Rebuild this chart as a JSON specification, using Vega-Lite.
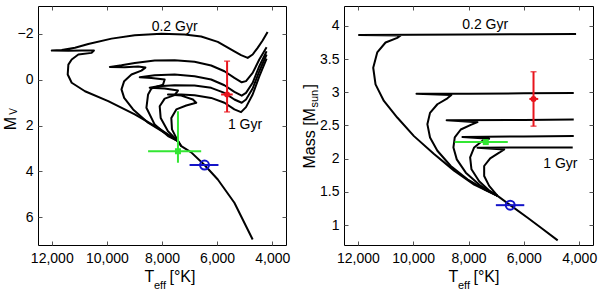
{
  "$schema": "https://vega.github.io/schema/vega-lite/v6.json",
  "padding": {"left": 1, "top": 5, "right": 0, "bottom": 0},
  "background": "white",
  "spacing": 58,
  "bounds": "flush",
  "datasets": {
    "isoL": [
      {"c":"a","i":0,"T":4168,"m":-2.07},{"c":"a","i":1,"T":4348,"m":-1.70},{"c":"a","i":2,"T":4529,"m":-1.38},{"c":"a","i":3,"T":4710,"m":-1.09},{"c":"a","i":4,"T":4890,"m":-0.94},{"c":"a","i":5,"T":5131,"m":-1.06},{"c":"a","i":6,"T":5373,"m":-1.23},{"c":"a","i":7,"T":5975,"m":-1.64},{"c":"a","i":8,"T":6578,"m":-1.87},{"c":"a","i":9,"T":7180,"m":-1.96},{"c":"a","i":10,"T":8024,"m":-1.99},{"c":"a","i":11,"T":8988,"m":-1.93},{"c":"a","i":12,"T":9831,"m":-1.78},{"c":"a","i":13,"T":10675,"m":-1.55},{"c":"a","i":14,"T":11157,"m":-1.38},{"c":"a","i":15,"T":11639,"m":-1.29},{"c":"a","i":16,"T":12000,"m":-1.26},{"c":"a","i":17,"T":11398,"m":-1.25},{"c":"a","i":18,"T":10916,"m":-1.26},{"c":"a","i":19,"T":10470,"m":-1.26},{"c":"a","i":20,"T":10554,"m":-1.16},{"c":"a","i":21,"T":11036,"m":-1.09},{"c":"a","i":22,"T":11277,"m":-0.87},{"c":"a","i":23,"T":11398,"m":-0.65},{"c":"a","i":24,"T":11422,"m":-0.22},{"c":"a","i":25,"T":11277,"m":0.14},{"c":"a","i":26,"T":10795,"m":0.51},{"c":"a","i":27,"T":9952,"m":0.94},{"c":"a","i":28,"T":8988,"m":1.52},{"c":"a","i":29,"T":8144,"m":2.10},{"c":"a","i":30,"T":7421,"m":2.68},
      {"c":"b","i":0,"T":4204,"m":-1.41},{"c":"b","i":1,"T":4469,"m":-0.87},{"c":"b","i":2,"T":4710,"m":-0.29},{"c":"b","i":3,"T":4951,"m":0.07},{"c":"b","i":4,"T":5107,"m":0.12},{"c":"b","i":5,"T":5373,"m":-0.07},{"c":"b","i":6,"T":5734,"m":-0.36},{"c":"b","i":7,"T":6216,"m":-0.61},{"c":"b","i":8,"T":6819,"m":-0.77},{"c":"b","i":9,"T":7541,"m":-0.84},{"c":"b","i":10,"T":8265,"m":-0.83},{"c":"b","i":11,"T":8988,"m":-0.72},{"c":"b","i":12,"T":9470,"m":-0.62},{"c":"b","i":13,"T":9891,"m":-0.55},{"c":"b","i":14,"T":9349,"m":-0.54},{"c":"b","i":15,"T":8867,"m":-0.57},{"c":"b","i":16,"T":8602,"m":-0.52},{"c":"b","i":17,"T":8747,"m":-0.39},{"c":"b","i":18,"T":9108,"m":-0.22},{"c":"b","i":19,"T":9373,"m":0.07},{"c":"b","i":20,"T":9470,"m":0.43},{"c":"b","i":21,"T":9373,"m":0.80},{"c":"b","i":22,"T":9048,"m":1.30},{"c":"b","i":23,"T":8505,"m":1.88},{"c":"b","i":24,"T":7903,"m":2.32},{"c":"b","i":25,"T":7421,"m":2.68},
      {"c":"c","i":0,"T":4204,"m":-1.23},{"c":"c","i":1,"T":4469,"m":-0.58},{"c":"c","i":2,"T":4710,"m":0.14},{"c":"c","i":3,"T":4951,"m":0.58},{"c":"c","i":4,"T":5107,"m":0.70},{"c":"c","i":5,"T":5373,"m":0.54},{"c":"c","i":6,"T":5734,"m":0.25},{"c":"c","i":7,"T":6216,"m":0.00},{"c":"c","i":8,"T":6819,"m":-0.14},{"c":"c","i":9,"T":7541,"m":-0.22},{"c":"c","i":10,"T":8265,"m":-0.19},{"c":"c","i":11,"T":8807,"m":-0.10},{"c":"c","i":12,"T":8385,"m":-0.07},{"c":"c","i":13,"T":7903,"m":0.00},{"c":"c","i":14,"T":7963,"m":0.22},{"c":"c","i":15,"T":8385,"m":0.39},{"c":"c","i":16,"T":8505,"m":0.65},{"c":"c","i":17,"T":8566,"m":1.23},{"c":"c","i":18,"T":8265,"m":1.96},{"c":"c","i":19,"T":7783,"m":2.46},{"c":"c","i":20,"T":7421,"m":2.68},
      {"c":"d","i":0,"T":4204,"m":-1.09},{"c":"d","i":1,"T":4469,"m":-0.36},{"c":"d","i":2,"T":4710,"m":0.39},{"c":"d","i":3,"T":4951,"m":0.87},{"c":"d","i":4,"T":5107,"m":1.01},{"c":"d","i":5,"T":5373,"m":0.87},{"c":"d","i":6,"T":5734,"m":0.58},{"c":"d","i":7,"T":6216,"m":0.36},{"c":"d","i":8,"T":6819,"m":0.26},{"c":"d","i":9,"T":7541,"m":0.25},{"c":"d","i":10,"T":8144,"m":0.29},{"c":"d","i":11,"T":8445,"m":0.36},{"c":"d","i":12,"T":7903,"m":0.39},{"c":"d","i":13,"T":7421,"m":0.48},{"c":"d","i":14,"T":7541,"m":0.68},{"c":"d","i":15,"T":7903,"m":0.83},{"c":"d","i":16,"T":8084,"m":1.16},{"c":"d","i":17,"T":8048,"m":1.67},{"c":"d","i":18,"T":7783,"m":2.25},{"c":"d","i":19,"T":7421,"m":2.68},
      {"c":"e","i":0,"T":4204,"m":-0.91},{"c":"e","i":1,"T":4469,"m":-0.14},{"c":"e","i":2,"T":4710,"m":0.65},{"c":"e","i":3,"T":4951,"m":1.20},{"c":"e","i":4,"T":5131,"m":1.42},{"c":"e","i":5,"T":5373,"m":1.30},{"c":"e","i":6,"T":5734,"m":1.01},{"c":"e","i":7,"T":6216,"m":0.80},{"c":"e","i":8,"T":6819,"m":0.68},{"c":"e","i":9,"T":7300,"m":0.65},{"c":"e","i":10,"T":7783,"m":0.65},{"c":"e","i":11,"T":7300,"m":0.70},{"c":"e","i":12,"T":6878,"m":0.87},{"c":"e","i":13,"T":6758,"m":1.01},{"c":"e","i":14,"T":7120,"m":1.13},{"c":"e","i":15,"T":7481,"m":1.30},{"c":"e","i":16,"T":7662,"m":1.67},{"c":"e","i":17,"T":7638,"m":2.17},{"c":"e","i":18,"T":7481,"m":2.54},{"c":"e","i":19,"T":7300,"m":2.90},
      {"c":"ms","i":0,"T":7421,"m":2.68},{"c":"ms","i":1,"T":7300,"m":2.90},{"c":"ms","i":2,"T":6939,"m":3.17},{"c":"ms","i":3,"T":6457,"m":3.72},{"c":"ms","i":4,"T":5975,"m":4.35},{"c":"ms","i":5,"T":5373,"m":5.36},{"c":"ms","i":6,"T":4710,"m":6.96}
    ],
    "isoR": [
      {"c":"a","i":0,"T":4112,"m":3.88},{"c":"a","i":1,"T":6000,"m":3.875},{"c":"a","i":2,"T":8000,"m":3.87},{"c":"a","i":3,"T":10000,"m":3.866},{"c":"a","i":4,"T":11958,"m":3.863},{"c":"a","i":5,"T":10451,"m":3.855},{"c":"a","i":6,"T":10575,"m":3.82},{"c":"a","i":7,"T":10998,"m":3.75},{"c":"a","i":8,"T":11299,"m":3.60},{"c":"a","i":9,"T":11444,"m":3.37},{"c":"a","i":10,"T":11360,"m":3.12},{"c":"a","i":11,"T":11058,"m":2.87},{"c":"a","i":12,"T":10575,"m":2.62},{"c":"a","i":13,"T":9971,"m":2.34},{"c":"a","i":14,"T":9246,"m":2.07},{"c":"a","i":15,"T":8521,"m":1.82},{"c":"a","i":16,"T":7796,"m":1.61},{"c":"a","i":17,"T":6950,"m":1.44},
      {"c":"b","i":0,"T":4196,"m":2.99},{"c":"b","i":1,"T":6000,"m":2.985},{"c":"b","i":2,"T":8000,"m":2.98},{"c":"b","i":3,"T":9880,"m":2.978},{"c":"b","i":4,"T":8620,"m":2.96},{"c":"b","i":5,"T":8763,"m":2.91},{"c":"b","i":6,"T":9125,"m":2.82},{"c":"b","i":7,"T":9391,"m":2.69},{"c":"b","i":8,"T":9487,"m":2.52},{"c":"b","i":9,"T":9391,"m":2.32},{"c":"b","i":10,"T":9125,"m":2.12},{"c":"b","i":11,"T":8642,"m":1.89},{"c":"b","i":12,"T":8038,"m":1.69},{"c":"b","i":13,"T":7434,"m":1.54},{"c":"b","i":14,"T":6950,"m":1.44},
      {"c":"c","i":0,"T":4196,"m":2.59},{"c":"c","i":1,"T":6000,"m":2.583},{"c":"c","i":2,"T":8790,"m":2.578},{"c":"c","i":3,"T":7675,"m":2.55},{"c":"c","i":4,"T":7917,"m":2.51},{"c":"c","i":5,"T":8279,"m":2.44},{"c":"c","i":6,"T":8497,"m":2.32},{"c":"c","i":7,"T":8545,"m":2.17},{"c":"c","i":8,"T":8424,"m":1.99},{"c":"c","i":9,"T":8098,"m":1.79},{"c":"c","i":10,"T":7555,"m":1.59},{"c":"c","i":11,"T":6950,"m":1.44},
      {"c":"d","i":0,"T":4196,"m":2.34},{"c":"d","i":1,"T":6000,"m":2.335},{"c":"d","i":2,"T":8219,"m":2.327},{"c":"d","i":3,"T":7253,"m":2.30},{"c":"d","i":4,"T":7494,"m":2.27},{"c":"d","i":5,"T":7796,"m":2.17},{"c":"d","i":6,"T":7941,"m":2.02},{"c":"d","i":7,"T":7893,"m":1.84},{"c":"d","i":8,"T":7615,"m":1.66},{"c":"d","i":9,"T":7253,"m":1.52},{"c":"d","i":10,"T":6950,"m":1.44},
      {"c":"e","i":0,"T":4233,"m":2.17},{"c":"e","i":1,"T":6000,"m":2.168},{"c":"e","i":2,"T":7675,"m":2.166},{"c":"e","i":3,"T":6709,"m":2.14},{"c":"e","i":4,"T":6890,"m":2.09},{"c":"e","i":5,"T":7216,"m":2.005},{"c":"e","i":6,"T":7434,"m":1.89},{"c":"e","i":7,"T":7434,"m":1.74},{"c":"e","i":8,"T":7253,"m":1.59},{"c":"e","i":9,"T":6950,"m":1.44},
      {"c":"ms","i":0,"T":6950,"m":1.44},{"c":"ms","i":1,"T":6492,"m":1.30},{"c":"ms","i":2,"T":5863,"m":1.11},{"c":"ms","i":3,"T":5380,"m":0.96},{"c":"ms","i":4,"T":4776,"m":0.77}
    ],
    "obsL": [
      {"s":"red","T":5638,"Tlo":5433,"Thi":5855,"m":0.65,"mlo":-0.80,"mhi":1.41},
      {"s":"green","T":7421,"Tlo":6578,"Thi":8505,"m":3.12,"mlo":1.38,"mhi":3.62},
      {"s":"blue","T":6457,"Tlo":5951,"Thi":7000,"m":3.72,"mlo":3.72,"mhi":3.72}
    ],
    "obsR": [
      {"s":"red","T":5650,"Tlo":5480,"Thi":5800,"m":2.90,"mlo":2.49,"mhi":3.31},
      {"s":"green","T":7375,"Tlo":6580,"Thi":8500,"m":2.25,"mlo":2.25,"mhi":2.25},
      {"s":"blue","T":6492,"Tlo":5984,"Thi":7011,"m":1.30,"mlo":1.30,"mhi":1.30}
    ],
    "annL": [
      {"T":7541,"m":-2.29,"t":"0.2 Gyr"},
      {"T":4987,"m":1.99,"t":"1 Gyr"}
    ],
    "annR": [
      {"T":7398,"m":4.01,"t":"0.2 Gyr"},
      {"T":4680,"m":1.925,"t":"1 Gyr"}
    ]
  },
  "resolve": {"scale": {"x": "independent", "y": "independent"}},
  "hconcat": [
    {
      "width": 248, "height": 239,
      "resolve": {"axis": {"x": "independent", "y": "independent"}},
      "layer": [
        {
          "data": {"name": "isoL"},
          "mark": {"type": "line", "stroke": "#000", "strokeWidth": 2, "strokeJoin": "round"},
          "encoding": {
            "x": {"field": "T", "type": "quantitative", "scale": {"domain": [3500, 12500], "reverse": true, "nice": false, "zero": false},
                  "axis": {"orient": "bottom", "values": [4000, 6000, 8000, 10000, 12000], "format": ",d", "ticks": false, "labelPadding": 6, "labelFlush": false, "labelOverlap": false, "title": "T", "titleFontSize": 16, "titleX": 106, "titleY": 36, "titleAlign": "left", "titleBaseline": "alphabetic", "titleAngle": 0}},
            "y": {"field": "m", "type": "quantitative", "scale": {"domain": [-3.2, 7.2], "reverse": true, "nice": false, "zero": false},
                  "axis": {"orient": "left", "values": [-2, 0, 2, 4, 6], "format": "d", "ticks": false, "labelPadding": 5, "labelFlush": false, "labelOverlap": false, "title": "M", "titleFontSize": 16, "titleX": -23, "titleY": 117, "titleAlign": "center", "titleBaseline": "alphabetic", "titleAngle": -90}},
            "detail": {"field": "c"},
            "order": {"field": "i", "type": "quantitative"}
          }
        },
        {
          "data": {"name": "obsL"},
          "mark": {"type": "rule", "strokeWidth": 2},
          "encoding": {
            "x": {"field": "Tlo", "type": "quantitative", "scale": {"domain": [3500, 12500], "reverse": true, "nice": false, "zero": false},
                  "axis": {"orient": "top", "values": [4000, 6000, 8000, 10000, 12000], "labels": false, "tickSize": -4, "title": null}},
            "x2": {"field": "Thi"},
            "y": {"field": "m", "type": "quantitative", "scale": {"domain": [-3.2, 7.2], "reverse": true, "nice": false, "zero": false},
                  "axis": {"orient": "right", "values": [-2, 0, 2, 4, 6], "labels": false, "tickSize": -4, "title": null}},
            "color": {"field": "s", "type": "nominal", "scale": {"domain": ["red", "green", "blue"], "range": ["#e8141c", "#33e633", "#1414c8"]}, "legend": null}
          }
        },
        {
          "data": {"name": "obsL"},
          "transform": [{"filter": "datum.mlo != datum.mhi"}],
          "mark": {"type": "rule", "strokeWidth": 2},
          "encoding": {
            "x": {"field": "T", "type": "quantitative", "scale": {"domain": [3500, 12500], "reverse": true, "nice": false, "zero": false}, "axis": null},
            "y": {"field": "mlo", "type": "quantitative", "scale": {"domain": [-3.2, 7.2], "reverse": true, "nice": false, "zero": false}, "axis": null},
            "y2": {"field": "mhi"},
            "color": {"field": "s", "type": "nominal", "legend": null}
          }
        },
        {
          "data": {"name": "obsL"},
          "transform": [{"filter": "datum.s == 'red'"}, {"fold": ["mlo", "mhi"], "as": ["k", "v"]}],
          "mark": {"type": "tick", "orient": "horizontal", "size": 6, "thickness": 1.5},
          "encoding": {
            "x": {"field": "T", "type": "quantitative", "scale": {"domain": [3500, 12500], "reverse": true, "nice": false, "zero": false}, "axis": null},
            "y": {"field": "v", "type": "quantitative", "scale": {"domain": [-3.2, 7.2], "reverse": true, "nice": false, "zero": false}, "axis": null},
            "color": {"field": "s", "type": "nominal", "legend": null}
          }
        },
        {
          "data": {"name": "obsL"},
          "transform": [{"filter": "datum.s != 'blue'"}],
          "mark": {"type": "point", "filled": true, "size": 36, "opacity": 1},
          "encoding": {
            "x": {"field": "T", "type": "quantitative", "scale": {"domain": [3500, 12500], "reverse": true, "nice": false, "zero": false},
                  "axis": {"orient": "bottom", "values": [4000, 6000, 8000, 10000, 12000], "labels": false, "tickSize": -4, "title": "eff", "titleFontSize": 11, "titleX": 115.5, "titleY": 43, "titleAlign": "left", "titleBaseline": "alphabetic", "titleAngle": 0}},
            "y": {"field": "m", "type": "quantitative", "scale": {"domain": [-3.2, 7.2], "reverse": true, "nice": false, "zero": false},
                  "axis": {"orient": "left", "values": [-2, 0, 2, 4, 6], "labels": false, "tickSize": -4, "title": "V", "titleFontSize": 10, "titleX": -22, "titleY": 105, "titleAlign": "center", "titleBaseline": "alphabetic", "titleAngle": -90}},
            "color": {"field": "s", "type": "nominal", "legend": null},
            "shape": {"field": "s", "type": "nominal", "scale": {"domain": ["red", "green"], "range": ["circle", "square"]}, "legend": null}
          }
        },
        {
          "data": {"name": "obsL"},
          "transform": [{"filter": "datum.s == 'blue'"}],
          "mark": {"type": "point", "filled": false, "size": 80, "strokeWidth": 2, "opacity": 1},
          "encoding": {
            "x": {"field": "T", "type": "quantitative", "scale": {"domain": [3500, 12500], "reverse": true, "nice": false, "zero": false},
                  "axis": {"orient": "bottom", "values": [4000], "labels": false, "ticks": false, "title": "[°K]", "titleFontSize": 16, "titleX": 131, "titleY": 36, "titleAlign": "left", "titleBaseline": "alphabetic", "titleAngle": 0}},
            "y": {"field": "m", "type": "quantitative", "scale": {"domain": [-3.2, 7.2], "reverse": true, "nice": false, "zero": false}, "axis": null},
            "color": {"field": "s", "type": "nominal", "legend": null}
          }
        },
        {
          "data": {"name": "annL"},
          "mark": {"type": "text", "fontSize": 14, "font": "Liberation Sans", "color": "#000", "align": "center", "baseline": "middle"},
          "encoding": {
            "x": {"field": "T", "type": "quantitative", "scale": {"domain": [3500, 12500], "reverse": true, "nice": false, "zero": false}, "axis": null},
            "y": {"field": "m", "type": "quantitative", "scale": {"domain": [-3.2, 7.2], "reverse": true, "nice": false, "zero": false}, "axis": null},
            "text": {"field": "t"}
          }
        }
      ]
    },
    {
      "width": 249, "height": 239,
      "resolve": {"axis": {"x": "independent", "y": "independent"}},
      "layer": [
        {
          "data": {"name": "isoR"},
          "mark": {"type": "line", "stroke": "#000", "strokeWidth": 2, "strokeJoin": "round"},
          "encoding": {
            "x": {"field": "T", "type": "quantitative", "scale": {"domain": [3500, 12500], "reverse": true, "nice": false, "zero": false},
                  "axis": {"orient": "bottom", "values": [4000, 6000, 8000, 10000, 12000], "format": ",d", "ticks": false, "labelPadding": 6, "labelFlush": false, "labelOverlap": false, "title": "T", "titleFontSize": 16, "titleX": 104, "titleY": 36, "titleAlign": "left", "titleBaseline": "alphabetic", "titleAngle": 0}},
            "y": {"field": "m", "type": "quantitative", "scale": {"domain": [0.7, 4.3], "nice": false, "zero": false},
                  "axis": {"orient": "left", "values": [1, 1.5, 2, 2.5, 3, 3.5, 4], "format": ".1~f", "ticks": false, "labelPadding": 5, "labelFlush": false, "labelOverlap": false, "title": "Mass [M", "titleFontSize": 16, "titleX": -30, "titleY": 162, "titleAlign": "left", "titleBaseline": "alphabetic", "titleAngle": -90}},
            "detail": {"field": "c"},
            "order": {"field": "i", "type": "quantitative"}
          }
        },
        {
          "data": {"name": "obsR"},
          "mark": {"type": "rule", "strokeWidth": 2},
          "encoding": {
            "x": {"field": "Tlo", "type": "quantitative", "scale": {"domain": [3500, 12500], "reverse": true, "nice": false, "zero": false},
                  "axis": {"orient": "top", "values": [4000, 6000, 8000, 10000, 12000], "labels": false, "tickSize": -4, "title": null}},
            "x2": {"field": "Thi"},
            "y": {"field": "m", "type": "quantitative", "scale": {"domain": [0.7, 4.3], "nice": false, "zero": false},
                  "axis": {"orient": "right", "values": [1, 1.5, 2, 2.5, 3, 3.5, 4], "labels": false, "tickSize": -4, "title": null}},
            "color": {"field": "s", "type": "nominal", "legend": null}
          }
        },
        {
          "data": {"name": "obsR"},
          "transform": [{"filter": "datum.mlo != datum.mhi"}],
          "mark": {"type": "rule", "strokeWidth": 2},
          "encoding": {
            "x": {"field": "T", "type": "quantitative", "scale": {"domain": [3500, 12500], "reverse": true, "nice": false, "zero": false}, "axis": null},
            "y": {"field": "mlo", "type": "quantitative", "scale": {"domain": [0.7, 4.3], "nice": false, "zero": false}, "axis": null},
            "y2": {"field": "mhi"},
            "color": {"field": "s", "type": "nominal", "legend": null}
          }
        },
        {
          "data": {"name": "obsR"},
          "transform": [{"filter": "datum.s == 'red'"}, {"fold": ["mlo", "mhi"], "as": ["k", "v"]}],
          "mark": {"type": "tick", "orient": "horizontal", "size": 6, "thickness": 1.5},
          "encoding": {
            "x": {"field": "T", "type": "quantitative", "scale": {"domain": [3500, 12500], "reverse": true, "nice": false, "zero": false}, "axis": null},
            "y": {"field": "v", "type": "quantitative", "scale": {"domain": [0.7, 4.3], "nice": false, "zero": false}, "axis": null},
            "color": {"field": "s", "type": "nominal", "legend": null}
          }
        },
        {
          "data": {"name": "obsR"},
          "transform": [{"filter": "datum.s != 'blue'"}],
          "mark": {"type": "point", "filled": true, "size": 36, "opacity": 1},
          "encoding": {
            "x": {"field": "T", "type": "quantitative", "scale": {"domain": [3500, 12500], "reverse": true, "nice": false, "zero": false},
                  "axis": {"orient": "bottom", "values": [4000, 6000, 8000, 10000, 12000], "labels": false, "tickSize": -4, "title": "eff", "titleFontSize": 11, "titleX": 113.5, "titleY": 43, "titleAlign": "left", "titleBaseline": "alphabetic", "titleAngle": 0}},
            "y": {"field": "m", "type": "quantitative", "scale": {"domain": [0.7, 4.3], "nice": false, "zero": false},
                  "axis": {"orient": "left", "values": [1, 1.5, 2, 2.5, 3, 3.5, 4], "labels": false, "tickSize": -4, "title": "sun", "titleFontSize": 11, "titleX": -27, "titleY": 101, "titleAlign": "left", "titleBaseline": "alphabetic", "titleAngle": -90}},
            "color": {"field": "s", "type": "nominal", "legend": null},
            "shape": {"field": "s", "type": "nominal", "scale": {"domain": ["red", "green"], "range": ["circle", "square"]}, "legend": null}
          }
        },
        {
          "data": {"name": "obsR"},
          "transform": [{"filter": "datum.s == 'blue'"}],
          "mark": {"type": "point", "filled": false, "size": 80, "strokeWidth": 2, "opacity": 1},
          "encoding": {
            "x": {"field": "T", "type": "quantitative", "scale": {"domain": [3500, 12500], "reverse": true, "nice": false, "zero": false},
                  "axis": {"orient": "bottom", "values": [4000], "labels": false, "ticks": false, "title": "[°K]", "titleFontSize": 16, "titleX": 129, "titleY": 36, "titleAlign": "left", "titleBaseline": "alphabetic", "titleAngle": 0}},
            "y": {"field": "m", "type": "quantitative", "scale": {"domain": [0.7, 4.3], "nice": false, "zero": false},
                  "axis": {"orient": "left", "values": [1], "labels": false, "ticks": false, "title": "]", "titleFontSize": 16, "titleX": -30, "titleY": 82, "titleAlign": "left", "titleBaseline": "alphabetic", "titleAngle": -90}},
            "color": {"field": "s", "type": "nominal", "legend": null}
          }
        },
        {
          "data": {"name": "annR"},
          "mark": {"type": "text", "fontSize": 14, "font": "Liberation Sans", "color": "#000", "align": "center", "baseline": "middle"},
          "encoding": {
            "x": {"field": "T", "type": "quantitative", "scale": {"domain": [3500, 12500], "reverse": true, "nice": false, "zero": false}, "axis": null},
            "y": {"field": "m", "type": "quantitative", "scale": {"domain": [0.7, 4.3], "nice": false, "zero": false}, "axis": null},
            "text": {"field": "t"}
          }
        }
      ]
    }
  ],
  "config": {
    "font": "Liberation Sans",
    "view": {"stroke": "#000", "strokeWidth": 1},
    "axis": {"grid": false, "domain": false, "labelFont": "Liberation Sans", "labelFontSize": 14, "labelColor": "#000", "titleFont": "Liberation Sans", "titleFontWeight": "normal", "titleColor": "#000", "tickColor": "#555", "tickWidth": 1}
  }
}
